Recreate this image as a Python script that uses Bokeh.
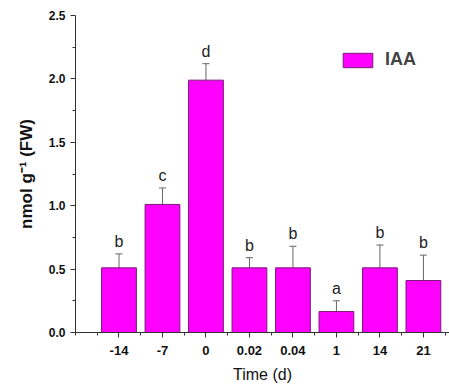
from bokeh.plotting import figure
from bokeh.models import Range1d, FixedTicker, ColumnDataSource, Whisker, Legend, LegendItem
from bokeh.core.properties import value
from bokeh.embed import file_html
from bokeh.resources import INLINE

# Data
time_labels = ["-14", "-7", "0", "0.02", "0.04", "1", "14", "21"]
iaa = [0.51, 1.01, 1.99, 0.51, 0.51, 0.165, 0.51, 0.41]
iaa_err = [0.11, 0.13, 0.13, 0.08, 0.17, 0.085, 0.18, 0.20]
letters = ["b", "c", "d", "b", "b", "a", "b", "b"]

pos = list(range(1, len(time_labels) + 1))
upper = [v + e for v, e in zip(iaa, iaa_err)]
lower = [v - e for v, e in zip(iaa, iaa_err)]
src = ColumnDataSource(dict(x=pos, top=iaa, upper=upper, lower=lower, letter=letters))

FONT = "Liberation Sans"

p = figure(width=449, height=385, x_range=Range1d(0, 8.6), y_range=Range1d(0, 2.5),
           output_backend="svg", toolbar_location=None,
           min_border_left=75, min_border_right=0, min_border_top=15, min_border_bottom=53)
p.outline_line_color = None
p.xgrid.visible = False
p.ygrid.visible = False
p.background_fill_color = "white"
p.border_fill_color = "white"

bars = p.vbar(x="x", top="top", width=0.8, bottom=0, source=src,
              fill_color="#FF00FF", line_color="#7a1a7a", line_width=1)

w = Whisker(base="x", upper="upper", lower="lower", source=src,
            line_color="#666666", line_width=1)
w.upper_head.size = 7
w.lower_head.size = 7
w.upper_head.line_color = "#666666"
w.lower_head.line_color = "#666666"
p.add_layout(w)

p.text(x="x", y="upper", text="letter", source=src, text_align="center",
       text_baseline="bottom", y_offset=-4, text_font=value(FONT),
       text_font_size="16px", text_color="#222222")

# Axes
p.xaxis.ticker = FixedTicker(ticks=pos, minor_ticks=[0] + [i + 0.5 for i in range(0, 9)])
p.xaxis.major_label_overrides = {i: lab for i, lab in zip(pos, time_labels)}
p.yaxis.ticker = FixedTicker(ticks=[0, 0.5, 1.0, 1.5, 2.0, 2.5],
                             minor_ticks=[0.25, 0.75, 1.25, 1.75, 2.25])
p.yaxis.major_label_overrides = {0: "0.0", 0.5: "0.5", 1.0: "1.0", 1.5: "1.5", 2.0: "2.0", 2.5: "2.5"}

for ax in (p.xaxis[0], p.yaxis[0]):
    ax.axis_line_color = "#333333"
    ax.major_tick_line_color = "#333333"
    ax.minor_tick_line_color = "#333333"
    ax.major_tick_in = 0
    ax.major_tick_out = 5
    ax.minor_tick_in = 0
    ax.minor_tick_out = 3
    ax.major_label_text_font = FONT
    ax.major_label_text_font_style = "bold"
    ax.major_label_text_color = "#111111"

p.xaxis.major_label_text_font_size = "13px"
p.yaxis.major_label_text_font_size = "12px"
p.xaxis.major_label_standoff = 8
p.yaxis.major_label_standoff = 5

p.xaxis.axis_label = "Time (d)"
p.xaxis.axis_label_text_font = FONT
p.xaxis.axis_label_text_font_style = "normal"
p.xaxis.axis_label_text_font_size = "16px"
p.xaxis.axis_label_standoff = 8
p.xaxis.axis_label_text_color = "#111111"

p.yaxis.axis_label = "nmol g\u207b\u00b9 (FW)"
p.yaxis.axis_label_text_font = FONT
p.yaxis.axis_label_text_font_style = "bold"
p.yaxis.axis_label_text_font_size = "17px"
p.yaxis.axis_label_standoff = 10
p.yaxis.axis_label_text_color = "#111111"

legend = Legend(items=[LegendItem(label="IAA", renderers=[bars])],
                location=(264, 262), glyph_width=37, glyph_height=18,
                label_height=18, label_text_font=FONT, label_text_font_style="bold",
                label_text_font_size="18px", label_standoff=9, padding=0, spacing=0,
                border_line_color=None, background_fill_alpha=0, margin=0)
p.add_layout(legend)

open("out.html", "w").write(file_html(p, INLINE))
